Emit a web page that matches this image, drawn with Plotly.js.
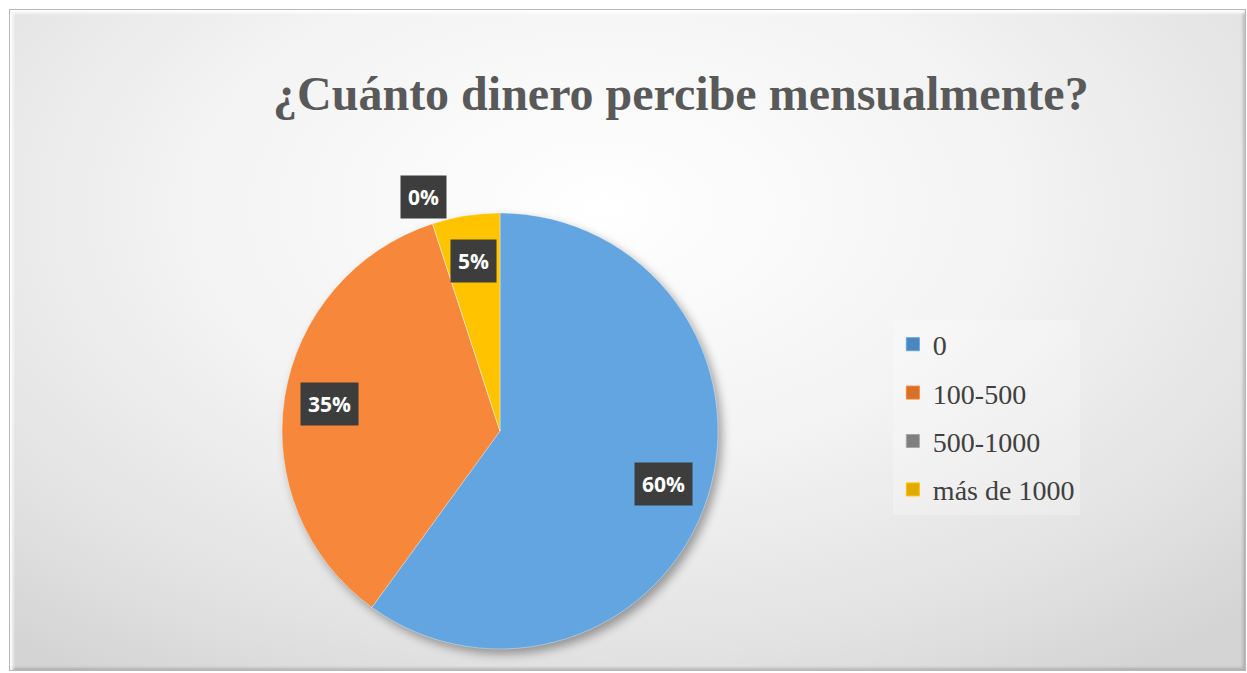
<!DOCTYPE html>
<html>
<head>
<meta charset="utf-8">
<script src="https://cdn.plot.ly/plotly-3.0.1.min.js"></script>
<style>
  html, body { margin: 0; padding: 0; width: 1247px; height: 673px; overflow: hidden; background: #ffffff; }
  #frame {
    position: absolute; left: 10px; top: 10px; width: 1235px; height: 660px;
    background: radial-gradient(ellipse 75% 85% at 48% 30%, #ffffff 0%, #f3f3f3 45%, #e2e2e2 80%, #d4d4d4 100%);
    box-shadow: inset 3px 3px 3px rgba(255,255,255,0.9), inset -2px -2px 3px rgba(0,0,0,0.18), 0 0 0 1px #b8b8b8;
  }
  #chart { position: absolute; left: 0; top: 0; width: 1247px; height: 673px; }
  .pielayer { filter: drop-shadow(4px 5px 5px rgba(0,0,0,0.35)); }
</style>
</head>
<body>
<div id="frame"></div>
<div id="chart"></div>
<script>
const categories = ["0", "100-500", "500-1000", "más de 1000"];
const values = [60, 35, 0, 5];
const colors = ["#62a5e1", "#f7873a", "#a5a5a5", "#ffc300"];
const legendSymbolColors = ["#4a86c0", "#d9702a", "#7f7f7f", "#e0aa00"];
const titleText = "¿Cuánto dinero percibe mensualmente?";

const W = 1247, H = 673;
const cx = 500, cy = 431, R = 218;

const pieTrace = {
  type: "pie",
  labels: categories,
  values: values,
  sort: false,
  direction: "clockwise",
  rotation: 0,
  textinfo: "none",
  hoverinfo: "label+percent",
  marker: { colors: colors, line: { color: "rgba(255,255,255,0.35)", width: 1 } },
  domain: { x: [(cx - R) / W, (cx + R) / W], y: [(H - cy - R) / H, (H - cy + R) / H] },
  showlegend: false
};

// legend entries (one per category) so spacing between entries can be set
const legendTraces = categories.map((c, i) => ({
  type: "scatter", mode: "markers",
  x: [null], y: [null],
  name: c,
  legendgroup: "g" + i,
  marker: { symbol: "square", size: 13, color: legendSymbolColors[i], line: { color: colors[i], width: 1 } },
  showlegend: true, hoverinfo: "skip"
}));

// data labels computed from the values (angles)
const total = values.reduce((a, b) => a + b, 0);
const annotations = [];
let acc = 0;
values.forEach((v, i) => {
  const start = acc / total * 2 * Math.PI;
  acc += v;
  const end = acc / total * 2 * Math.PI;
  const mid = (start + end) / 2;
  const rf = v === 0 ? 1.13 : 0.79;
  const px = cx + rf * R * Math.sin(mid);
  const py = cy - rf * R * Math.cos(mid);
  annotations.push({
    x: px / W, y: 1 - py / H, xref: "paper", yref: "paper",
    text: "<b>" + Math.round(v / total * 100) + "%</b>",
    showarrow: false,
    font: { family: "Open Sans, sans-serif", size: 21, color: "#ffffff" },
    bgcolor: "#3d3d3d",
    borderpad: 7,
    xanchor: "center", yanchor: "middle"
  });
});

const layout = {
  width: W, height: H,
  margin: { l: 0, r: 0, t: 0, b: 0 },
  paper_bgcolor: "rgba(0,0,0,0)",
  plot_bgcolor: "rgba(0,0,0,0)",
  xaxis: { visible: false, showgrid: false, zeroline: false },
  yaxis: { visible: false, showgrid: false, zeroline: false },
  title: {
    text: "<b>" + titleText + "</b>",
    font: { family: "Liberation Serif, Times New Roman, serif", size: 48, color: "#595959" },
    x: 0.546, xanchor: "center", y: 0.862, yanchor: "middle"
  },
  legend: {
    x: 0.716, xanchor: "left", y: 1 - 417 / H, yanchor: "middle",
    font: { family: "Liberation Serif, Times New Roman, serif", size: 28, color: "#404040" },
    bgcolor: "rgba(255,255,255,0.25)",
    itemwidth: 30,
    tracegroupgap: 9
  },
  annotations: annotations
};

Plotly.newPlot("chart", [pieTrace].concat(legendTraces), layout, { displayModeBar: false, staticPlot: true });
</script>
</body>
</html>
